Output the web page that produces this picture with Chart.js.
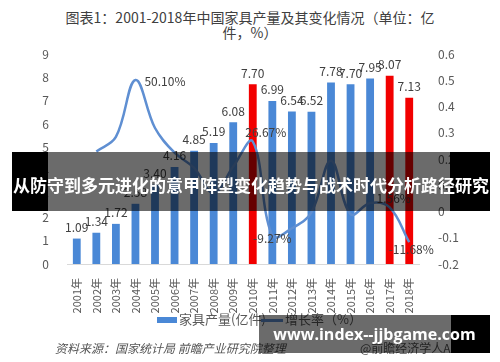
<!DOCTYPE html>
<html lang="zh">
<head>
  <meta charset="UTF-8">
  <title>2001-2018年中国家具产量</title>
  <script src="https://cdn.jsdelivr.net/npm/chart.js"></script>
  <style>
    * { box-sizing:border-box; }
    body { margin:0; width:500px; height:362px; overflow:hidden; background:#fff;
      font-family:'Noto Sans CJK SC','Noto Sans',sans-serif; position:relative; }
    #chart { position:absolute; left:0; top:0; }
    .title { position:absolute; left:0; width:500px; text-align:center; font-size:14px; color:#404040; line-height:15px; }
    .legend { position:absolute; top:310px; font-size:13px; color:#595959; line-height:18px; white-space:nowrap; }
    .legend i { display:inline-block; vertical-align:middle; margin-right:2px; }
    .source { position:absolute; top:339px; font-size:12px; font-style:italic; color:#555; white-space:nowrap; }
    /* overlay banner */
    .banner { position:absolute; left:12px; top:152px; width:478px; height:59px; background:rgba(0,0,0,0.58); }
    .banner .l { position:absolute; left:0; top:0; width:36px; height:100%; background:#000; }
    .banner .r { position:absolute; right:0; top:0; width:40px; height:100%; background:#000; }
    .banner span { position:absolute; left:0; width:100%; top:21px; text-align:center; color:#fff; font-weight:bold; font-size:17px; line-height:24px; white-space:nowrap; }
    .wm { position:absolute; left:259px; top:315px; width:231px; height:38px; background:rgba(0,0,0,0.58); }
    .wm .r { position:absolute; right:0; top:0; width:39px; height:100%; background:#000; }
    .wm span { position:absolute; left:0; width:100%; top:8px; text-align:center; color:#fff; font-weight:bold; font-size:16px; line-height:22px; font-family:'Open Sans',sans-serif; white-space:nowrap; }
  </style>
</head>
<body>
  <div class="title" style="top:10px">图表1：2001-2018年中国家具产量及其变化情况（单位：亿</div>
  <div class="title" style="top:25px">件，%）</div>
  <canvas id="chart" width="500" height="362"></canvas>

  <div class="legend" style="left:157px"><i style="width:20px;height:6px;background:#4a88d6"></i>家具产量(亿件)</div>
  <div class="legend" style="left:261px"><i style="width:22px;height:2.5px;background:#5f8fd2"></i>增长率（%）</div>
  <div class="source" style="left:55px">资料来源：国家统计局 前瞻产业研究院整理</div>
  <div class="source" style="left:360px;font-style:normal">@前瞻经济学人APP</div>

  <div class="banner"><div class="l"></div><div class="r"></div><span>从防守到多元进化的意甲阵型变化趋势与战术时代分析路径研究</span></div>
  <div class="wm"><div class="r"></div><span>www.index--jjbgame.com</span></div>

<script>
  // 数据
  const years  = ['2001年','2002年','2003年','2004年','2005年','2006年','2007年','2008年','2009年',
                  '2010年','2011年','2012年','2013年','2014年','2015年','2016年','2017年','2018年'];
  const output = [1.09,1.34,1.72,2.58,3.40,4.16,4.85,5.19,6.08,7.70,6.99,6.54,6.52,7.78,7.70,7.95,8.07,7.13];
  const growth = [null,0.229,0.284,0.501,0.318,0.224,0.166,0.070,0.171,0.2667,-0.0927,-0.064,-0.003,0.193,-0.010,0.032,0.0156,-0.1168];
  const redYears = ['2010年','2017年','2018年'];
  const growthLabelIdx = [3,9,10,16,17];

  // label offsets (px) for the growth labels
  const growthLabelOffset = { 3:[9,1,'left'], 9:[13,-9,'center'], 10:[0,3,'center'], 16:[4,-9,'center'], 17:[2,7,'center'] };

  const BLUE = '#4a88d6', RED = '#f20000', LINE = '#5f8fd2';
  const FONT = "'Noto Sans CJK SC','Noto Sans',sans-serif";

  const labelPlugin = {
    id:'labels',
    afterDatasetsDraw(chart){
      const ctx = chart.ctx;
      ctx.save();
      ctx.font = '12px ' + FONT;
      ctx.fillStyle = '#404040';
      ctx.textBaseline = 'middle';
      // bar labels
      chart.getDatasetMeta(0).data.forEach((bar,i)=>{
        ctx.textAlign = 'center';
        ctx.fillText(output[i].toFixed(2), bar.x, bar.y - 11);
      });
      // growth labels
      const meta = chart.getDatasetMeta(1);
      growthLabelIdx.forEach(i=>{
        const p = meta.data[i];
        const o = growthLabelOffset[i];
        ctx.textAlign = o[2];
        ctx.fillText((growth[i]*100).toFixed(2)+'%', p.x + o[0], p.y + o[1]);
      });
      ctx.restore();
    }
  };

  new Chart(document.getElementById('chart'), {
    data:{
      labels: years,
      datasets:[
        {
          type:'bar', label:'家具产量(亿件)', data: output, yAxisID:'y', order:1,
          backgroundColor: years.map(y=>redYears.includes(y) ? RED : BLUE),
          barPercentage:0.4, categoryPercentage:1
        },
        {
          type:'line', label:'增长率（%）', data: growth, yAxisID:'y1', order:0,
          borderColor: LINE, borderWidth:2.5, pointRadius:0, tension:0.38, fill:false
        }
      ]
    },
    plugins:[labelPlugin],
    options:{
      responsive:false, animation:false,
      layout:{ padding:{ top:54, left:0, right:0, bottom:0 } },
      plugins:{ legend:{ display:false }, title:{ display:false }, tooltip:{ enabled:false } },
      scales:{
        x:{
          grid:{ display:false }, border:{ color:'#d9d9d9' },
          ticks:{ minRotation:90, maxRotation:90, color:'#595959', font:{ size:11, family:FONT }, padding:6 },
          afterFit(s){ s.height = 98; }
        },
        y:{
          position:'left', min:0, max:9,
          grid:{ display:false }, border:{ display:false },
          ticks:{ stepSize:1, color:'#595959', font:{ size:12, family:FONT }, padding:10 },
          afterFit(s){ s.width = 67; }
        },
        y1:{
          position:'right', min:-0.2, max:0.6,
          grid:{ display:false }, border:{ display:false },
          ticks:{ stepSize:0.1, color:'#595959', font:{ size:12, family:FONT }, padding:11,
            callback:v=>Math.round(v*10)/10 },
          afterFit(s){ s.width = 81; }
        }
      }
    }
  });
</script>
</body>
</html>
